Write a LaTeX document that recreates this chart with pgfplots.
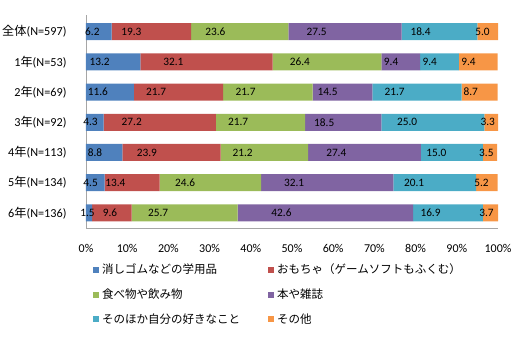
\documentclass[border=0pt]{standalone}
\usepackage{pgfplots}
\pgfplotsset{compat=1.18}
\usepackage{fontspec}
\setmainfont{Carlito}
\newfontfamily\cjk{Noto Sans CJK JP}
\definecolor{c1}{HTML}{4F81BD}
\definecolor{c2}{HTML}{C0504D}
\definecolor{c3}{HTML}{9BBB59}
\definecolor{c4}{HTML}{8064A2}
\definecolor{c5}{HTML}{4BACC6}
\definecolor{c6}{HTML}{F79646}
\begin{document}
\begin{tikzpicture}[x=1pt,y=1pt]
\path[use as bounding box] (0,0) rectangle (527,342);
\begin{axis}[
  at={(86pt,114pt)}, anchor=south west,
  scale only axis, width=412pt, height=213pt,
  xbar stacked, bar width=17pt,
  xmin=0, xmax=100, ymin=-0.55, ymax=6.5, y dir=reverse,
  ytick={0,...,6},
  yticklabels={{\cjk 全体}(N=597),{1\cjk 年}(N=53),{2\cjk 年}(N=69),{3\cjk 年}(N=92),{4\cjk 年}(N=113),{5\cjk 年}(N=134),{6\cjk 年}(N=136)},
  xtick={0,10,...,100},
  xticklabel={\pgfmathprintnumber[assume math mode=true]{\tick}\%},
  xticklabel style={yshift=-13pt, font=\fontsize{12}{14}\selectfont},
  yticklabel style={xshift=-16pt, font=\fontsize{12.2}{14}\selectfont},
  major tick length=0pt,
  axis x line*=bottom, axis y line*=left,
  axis line style={draw=black!35, line width=0.8pt, -},
  point meta=rawx,
  visualization depends on={rawx \as \rawx},
  nodes near coords={\pgfmathprintnumber[fixed,fixed zerofill,precision=1,assume math mode=true]{\pgfplotspointmeta}},
  nodes near coords align=center,
  every node near coord/.append style={anchor=center, shift={(axis direction cs:-\rawx/4,0)}, font=\fontsize{11.3}{13}\selectfont, text=black, inner sep=0pt},
  legend columns=2,
  legend cell align=left,
  legend style={draw=none, at={(0.0,-0.15)}, xshift=4pt, anchor=north west,
    font=\cjk\fontsize{11.5}{13}\selectfont, row sep=9.5pt,
    /tikz/column 2/.style={column sep=26pt},
    /tikz/every odd column/.append style={column sep=1pt}},
  legend image code/.code={\fill[#1] (0pt,-3pt) rectangle (6pt,3pt);},
]
\addplot[fill=c1, draw=none] coordinates {(6.2,0) (13.2,1) (11.6,2) (4.3,3) (8.8,4) (4.5,5) (1.5,6)};
\addplot[fill=c2, draw=none,
  visualization depends on={\thisrow{dx} \as \dx},
  every node near coord/.append style={xshift=\dx pt}] table {
x y dx
19.3 0 0
32.1 1 0
21.7 2 0
27.2 3 0
23.9 4 0
13.4 5 -3
9.6 6 8
};
\addplot[fill=c3, draw=none] coordinates {(23.6,0) (26.4,1) (21.7,2) (21.7,3) (21.2,4) (24.6,5) (25.7,6)};
\addplot[fill=c4, draw=none] coordinates {(27.5,0) (9.4,1) (14.5,2) (18.5,3) (27.4,4) (32.1,5) (42.6,6)};
\addplot[fill=c5, draw=none] coordinates {(18.4,0) (9.4,1) (21.7,2) (25.0,3) (15.0,4) (20.1,5) (16.9,6)};
\addplot[fill=c6, draw=none] coordinates {(5.0,0) (9.4,1) (8.7,2) (3.3,3) (3.5,4) (5.2,5) (3.7,6)};
\legend{消しゴムなどの学用品,おもちゃ（ゲームソフトもふくむ）,食べ物や飲み物,本や雑誌,そのほか自分の好きなこと,その他}
\end{axis}
\end{tikzpicture}
\end{document}
